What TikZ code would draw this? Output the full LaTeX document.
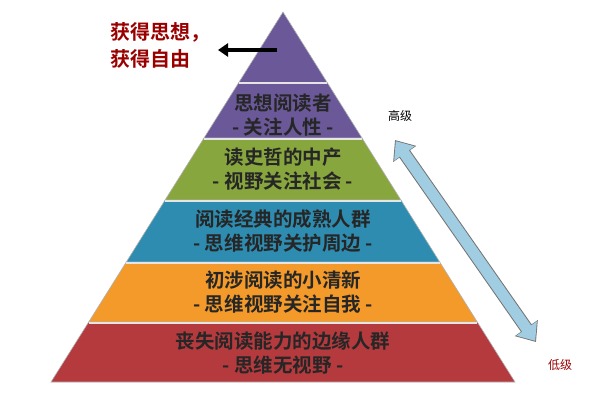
\documentclass[tikz,border=0pt]{standalone}
\usepackage{fontspec}
\usetikzlibrary{arrows.meta}
\newfontfamily\cjk{Noto Sans CJK SC Bold}
\newfontfamily\cjkl{Noto Sans CJK SC}
\definecolor{lblue}{RGB}{160,205,225}
\definecolor{cred}{RGB}{180,58,62}
\definecolor{corange}{RGB}{243,154,42}
\definecolor{cteal}{RGB}{46,140,176}
\definecolor{cgreen}{RGB}{136,166,62}
\definecolor{cpurple}{RGB}{106,88,152}
\begin{document}
\begin{tikzpicture}[x=1pt,y=-1pt,
  lay/.style={draw=white!70!black,line width=0.6pt},
  lt/.style={font=\cjk\fontsize{19.5}{24}\selectfont,text=black!85,align=center},
  side/.style={font=\cjk\fontsize{20}{27}\selectfont,text=red!60!black,align=left}]
\useasboundingbox (0,0) rectangle (600,408);
\filldraw[lay,fill=cred] (283-232,382) -- (283+232,382) -- (283+194.3,322) -- (283-194.3,322) -- cycle;
\filldraw[lay,fill=corange] (283-194.3,322) -- (283+194.3,322) -- (283+156.7,262) -- (283-156.7,262) -- cycle;
\filldraw[lay,fill=cteal] (283-156.7,262) -- (283+156.7,262) -- (283+117.9,200) -- (283-117.9,200) -- cycle;
\filldraw[lay,fill=cgreen] (283-117.9,200) -- (283+117.9,200) -- (283+79,138) -- (283-79,138) -- cycle;
\filldraw[lay,fill=cpurple] (283-79,138) -- (283+79,138) -- (283,12) -- cycle;
\foreach \y/\w in {322/194.3,262/156.7,200/117.9,138/79,82/43.9}
  \draw[white!80!gray,line width=1.2pt] (283-\w,\y+1) -- (283+\w,\y+1);
\node[lt] (l5) at (283,115) {思想阅读者\\- 关注人性 -};
\node[lt] (l4) at (283,169) {读史哲的中产\\- 视野关注社会 -};
\node[lt] (l3) at (283,231) {阅读经典的成熟人群\\- 思维视野关护周边 -};
\node[lt] (l2) at (283,292) {初涉阅读的小清新\\- 思维视野关注自我 -};
\node[lt] (l1) at (283,353) {丧失阅读能力的边缘人群\\- 思维无视野 -};
\node[side] (g) at (160,45) {获得思想，\\获得自由};
\coordinate (as) at (277,50);
\coordinate (ae) at (218,50);
\draw[line width=4pt,-{Triangle[length=10pt,width=13pt]}] (as) -- (ae);
\node[font=\cjkl\fontsize{12}{14}\selectfont] (hi) at (400,116) {高级};
\node[font=\cjkl\fontsize{12}{14}\selectfont,text=red!60!black] (lo) at (560,365) {低级};
\coordinate (a1) at (395,140);
\coordinate (a2) at (536,342);
\draw[line width=13pt,black!55,{Triangle[length=17pt,width=27pt]}-{Triangle[length=17pt,width=27pt]}] (a1) -- (a2);
\draw[line width=11pt,lblue,shorten <=1.4pt,shorten >=1.4pt,{Triangle[length=15pt,width=24pt]}-{Triangle[length=15pt,width=24pt]}] (a1) -- (a2);
\end{tikzpicture}
\end{document}
